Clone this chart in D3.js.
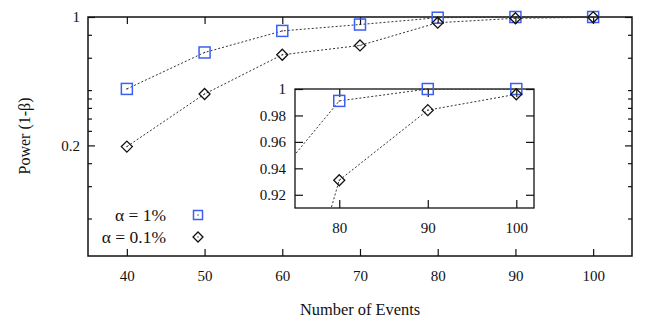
<!DOCTYPE html>
<html><head><meta charset="utf-8">
<script src="https://cdn.jsdelivr.net/npm/d3@7"></script>
<style>
html,body{margin:0;padding:0;background:#fff;}
svg{display:block;font-family:"Liberation Serif","Times New Roman",serif;}
svg text{font-family:"Liberation Serif","Times New Roman",serif !important;}
</style></head>
<body>
<svg id="c" width="654" height="327"></svg>
<script>
const events = [40, 50, 60, 70, 80, 90, 100];
const power1 = [0.406, 0.641, 0.84, 0.91, 0.991, 1.0, 1.0];
const power01 = [0.197, 0.381, 0.623, 0.70, 0.931, 0.984, 0.996];
const seriesNames = ["α = 1%", "α = 0.1%"];
const xTicks = [40, 50, 60, 70, 80, 90, 100];
const yMajorTicks = [0.2, 1];
const yMinorTicks = [0.08, 0.12, 0.16, 0.24, 0.28, 0.32, 0.36, 0.4, 0.6, 0.8];
const insetXTicks = [80, 90, 100];
const insetYTicks = [0.92, 0.94, 0.96, 0.98, 1];

const BLUE = "#3d5ef2";
const FONT = '"Liberation Serif","Times New Roman",serif';
const svg = d3.select("#c");

const x = d3.scaleLinear().domain([35, 105]).range([88, 632]);
const y = d3.scaleLog().domain([0.05, 1]).range([256, 17]);

const fmtY = v => (v === 1 ? "1" : String(v));

function styleAxis(g, fs) {
  g.attr("font-family", FONT);
  g.select(".domain").remove();
  g.selectAll("line").attr("stroke", "#111").attr("stroke-width", 1.2);
  g.selectAll("text").attr("fill", "#111").style("font-size", fs + "px");
}

svg.append("g").attr("transform", `translate(88,0)`)
  .call(d3.axisLeft(y).tickValues(yMajorTicks).tickSize(-7).tickPadding(8).tickFormat(fmtY))
  .call(g => styleAxis(g, 15));
svg.append("g").attr("transform", `translate(88,0)`)
  .call(d3.axisLeft(y).tickValues(yMinorTicks).tickSize(-4).tickFormat(""))
  .call(g => styleAxis(g, 15));
svg.append("g").attr("transform", `translate(632,0)`)
  .call(d3.axisRight(y).tickValues(yMajorTicks).tickSize(-7).tickFormat(""))
  .call(g => styleAxis(g, 15));
svg.append("g").attr("transform", `translate(632,0)`)
  .call(d3.axisRight(y).tickValues(yMinorTicks).tickSize(-4).tickFormat(""))
  .call(g => styleAxis(g, 15));
svg.append("g").attr("transform", `translate(0,256)`)
  .call(d3.axisBottom(x).tickValues(xTicks).tickSize(-7).tickPadding(14).tickFormat(d3.format("d")))
  .call(g => styleAxis(g, 15));
svg.append("g").attr("transform", `translate(0,17)`)
  .call(d3.axisTop(x).tickValues(xTicks).tickSize(-7).tickFormat(""))
  .call(g => styleAxis(g, 15));

svg.append("rect").attr("x", 88).attr("y", 17).attr("width", 544).attr("height", 239)
  .attr("fill", "none").attr("stroke", "#111").attr("stroke-width", 1.5);

svg.append("text").attr("x", 360).attr("y", 315).attr("text-anchor", "middle")
  .style("font-size", "16.4px").attr("fill", "#111").text("Number of Events");
svg.append("text").attr("transform", "translate(30,136) rotate(-90)").attr("text-anchor", "middle")
  .style("font-size", "16px").attr("fill", "#111").text("Power (1-β)");

function drawSeries(g, xs, ys, vals) {
  const line = d3.line().x((d, i) => xs(events[i])).y(d => ys(d));
  g.append("path").datum(vals).attr("d", line).attr("fill", "none")
    .attr("stroke", "#333").attr("stroke-width", 1).attr("stroke-dasharray", "2,2");
}
let clipX = {minX: -1e9, maxX: 1e9};
function drawMarkers(g, xs, ys, vals, kind, size) {
  vals.forEach((v, i) => {
    const cx = xs(events[i]), cy = ys(v);
    if (cx < clipX.minX || cx > clipX.maxX) return;
    marker(g, cx, cy, kind, size);
  });
}
function marker(g, cx, cy, kind, size) {
  if (kind === "square") {
    g.append("rect").attr("x", cx - size / 2).attr("y", cy - size / 2)
      .attr("width", size).attr("height", size).attr("fill", "none")
      .attr("stroke", BLUE).attr("stroke-width", 1.5);
  } else {
    const h = size / 2;
    g.append("path").attr("d", `M${cx},${cy - h}L${cx + h},${cy}L${cx},${cy + h}L${cx - h},${cy}Z`)
      .attr("fill", "none").attr("stroke", "#111").attr("stroke-width", 1.3);
  }
  g.append("circle").attr("cx", cx).attr("cy", cy).attr("r", 0.7).attr("fill", "#333");
}

const main = svg.append("g");
drawSeries(main, x, y, power1);
drawSeries(main, x, y, power01);
drawMarkers(main, x, y, power1, "square", 11);
drawMarkers(main, x, y, power01, "diamond", 11);

svg.append("text").attr("x", 166).attr("y", 221).attr("text-anchor", "end")
  .style("font-size", "17.5px").attr("fill", "#111").text(seriesNames[0]);
svg.append("text").attr("x", 166).attr("y", 243).attr("text-anchor", "end")
  .style("font-size", "17.5px").attr("fill", "#111").text(seriesNames[1]);
marker(svg, 198, 215, "square", 9);
marker(svg, 198, 237, "diamond", 10);

const xi = d3.scaleLinear().domain([75, 102]).range([295, 534]);
const yi = d3.scaleLinear().domain([0.91, 1]).range([208, 89]);
svg.append("rect").attr("x", 295).attr("y", 89).attr("width", 239).attr("height", 119).attr("fill", "#fff");
svg.append("defs").append("clipPath").attr("id", "ic").append("rect")
  .attr("x", 295).attr("y", 89).attr("width", 239).attr("height", 119);
const ins = svg.append("g").attr("clip-path", "url(#ic)");
drawSeries(ins, xi, yi, power1);
drawSeries(ins, xi, yi, power01);

svg.append("g").attr("transform", `translate(295,0)`)
  .call(d3.axisLeft(yi).tickValues(insetYTicks).tickSize(-8).tickPadding(9).tickFormat(v => v === 1 ? "1" : d3.format(".2f")(v)))
  .call(g => styleAxis(g, 15));
svg.append("g").attr("transform", `translate(534,0)`)
  .call(d3.axisRight(yi).tickValues(insetYTicks).tickSize(-8).tickFormat(""))
  .call(g => styleAxis(g, 15));
svg.append("g").attr("transform", `translate(0,208)`)
  .call(d3.axisBottom(xi).tickValues(insetXTicks).tickSize(-8).tickPadding(14).tickFormat(d3.format("d")))
  .call(g => styleAxis(g, 15));
svg.append("g").attr("transform", `translate(0,89)`)
  .call(d3.axisTop(xi).tickValues(insetXTicks).tickSize(-8).tickFormat(""))
  .call(g => styleAxis(g, 15));
svg.append("rect").attr("x", 295).attr("y", 89).attr("width", 239).attr("height", 119)
  .attr("fill", "none").attr("stroke", "#111").attr("stroke-width", 1.3);

const insM = svg.append("g");
clipX = {minX: 295, maxX: 534};
drawMarkers(insM, xi, yi, power1, "square", 11);
drawMarkers(insM, xi, yi, power01, "diamond", 11);
</script>
</body></html>
